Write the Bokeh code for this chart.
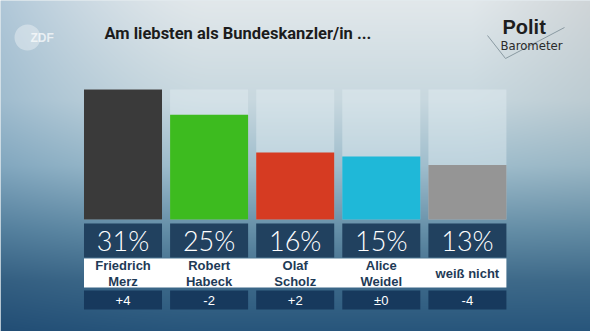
import numpy as np
from bokeh.plotting import figure
from bokeh.models import Range1d, Label
from bokeh.core.properties import value
from bokeh.embed import file_html
from bokeh.resources import INLINE

# ---- data ----
categories = ["Friedrich\nMerz", "Robert\nHabeck", "Olaf\nScholz", "Alice\nWeidel", "weiß nicht"]
percent = [31, 25, 16, 15, 13]
percent_labels = ["31%", "25%", "16%", "15%", "13%"]
changes = ["+4", "-2", "+2", "±0", "-4"]
bar_colors = ["#3a3a3a", "#3dbb1f", "#d63b22", "#1fb8d8", "#959595"]
title_text = "Am liebsten als Bundeskanzler/in ..."

W, H = 590, 331
X0, X1 = -1.4228, 5.4297
Y0, Y1 = -26.71, 52.22

def X(px):
    return X0 + px / W * (X1 - X0)

def Y(py):
    return Y1 - py / H * (Y1 - Y0)

p = figure(width=W, height=H, x_range=Range1d(X0, X1), y_range=Range1d(Y0, Y1),
           output_backend="svg", toolbar_location=None, x_axis_type=None,
           y_axis_type=None, min_border=0, outline_line_color=None)
p.grid.visible = False
p.background_fill_color = "#c8d8df"
p.border_fill_color = "#c8d8df"

# ---- background gradient ----
stops_t = [0.0, 0.3, 0.5, 0.7, 0.85, 1.0]
stops_c = np.array([[226, 232, 235], [200, 216, 223], [160, 190, 205],
                    [100, 142, 167], [62, 106, 138], [40, 86, 124]], float)
ys = np.arange(H)[::-1] / (H - 1)  # row 0 = bottom
xs = np.arange(W) / (W - 1)
img = np.zeros((H, W, 3))
for k in range(3):
    col = np.interp(ys, stops_t, stops_c[:, k])
    img[:, :, k] = col[:, None]
dark = np.clip(1 - xs / 0.35, 0, 1) ** 1.5
topfade = np.clip(1 - ys * 0.3, 0, 1)
shade = np.array([0.78, 0.86, 0.92])
for k in range(3):
    img[:, :, k] *= 1 - (1 - shade[k]) * dark[None, :] * topfade[:, None]
rdark = np.clip((xs - 0.8) / 0.2, 0, 1)
for k in range(3):
    img[:, :, k] *= 1 - 0.08 * rdark[None, :] * (1 - ys[:, None])
img = np.clip(img, 0, 255).astype(np.uint8)
rgba = np.zeros((H, W), dtype=np.uint32)
view = rgba.view(dtype=np.uint8).reshape((H, W, 4))
view[:, :, 0] = img[:, :, 0]
view[:, :, 1] = img[:, :, 1]
view[:, :, 2] = img[:, :, 2]
view[:, :, 3] = 255
p.image_rgba(image=[rgba], x=X0, y=Y0, dw=X1 - X0, dh=Y1 - Y0)

idx = list(range(len(categories)))
bw = 0.906

# light backing columns
p.vbar(x=idx, top=max(percent), bottom=0, width=bw,
       fill_color="#e2edf1", fill_alpha=0.45, line_color=None)
# bars
p.vbar(x=idx, top=percent, bottom=0, width=bw, fill_color=bar_colors, line_color=None)

# percent boxes
p.vbar(x=idx, top=-0.95, bottom=-9.06, width=bw, fill_color="#21415f", line_color=None)
p.text(x=idx, y=[-5.0] * len(idx), text=percent_labels, text_align="center",
       text_baseline="middle", text_color="white", text_font=value("Lato Light"),
       text_font_size="27px")

# white name band
p.quad(left=-bw / 2, right=len(idx) - 1 + bw / 2, top=-9.3, bottom=-16.21,
       fill_color="white", line_color=None)
p.text(x=idx, y=[-12.85] * len(idx), text=categories, text_align="center",
       text_baseline="middle", text_color="#1e3a56", text_font=value("Liberation Sans"),
       text_font_style="bold", text_font_size="13px", text_line_height=1.05)

# change boxes
p.vbar(x=idx, top=-16.93, bottom=-21.46, width=bw, fill_color="#17395d", line_color=None)
p.text(x=idx, y=[-19.2] * len(idx), text=changes, text_align="center",
       text_baseline="middle", text_color="white", text_font=value("Liberation Sans"),
       text_font_size="13px")

# title
p.add_layout(Label(x=104, y=H - 33, x_units="screen", y_units="screen", text=title_text,
                   text_font="Roboto", text_font_style="bold", text_font_size="16.5px",
                   text_color="#1c1c1c", text_baseline="middle"))

# ZDF logo
p.scatter(x=[X(27)], y=[Y(37)], size=26, marker="circle", fill_color="white",
          fill_alpha=0.35, line_color=None)
p.text(x=[X(30)], y=[Y(37)], text=["ZDF"], text_baseline="middle",
       text_color="white", text_alpha=0.7, text_font=value("Liberation Sans"),
       text_font_style="bold", text_font_size="12px")

# Politbarometer logo
p.line(x=[X(487), X(505), X(564)], y=[Y(35), Y(58), Y(27)], line_color="#8a9aa2",
       line_width=1)
p.text(x=[X(502)], y=[Y(26)], text=["Polit"], text_baseline="middle",
       text_color="#1e1e1e", text_font=value("Liberation Sans"), text_font_style="bold",
       text_font_size="20px")
p.text(x=[X(500)], y=[Y(45)], text=["Barometer"], text_baseline="middle",
       text_color="#2a2a2a", text_font=value("DejaVu Sans Condensed"),
       text_font_size="13px")

open("out.html", "w").write(file_html(p, INLINE))
